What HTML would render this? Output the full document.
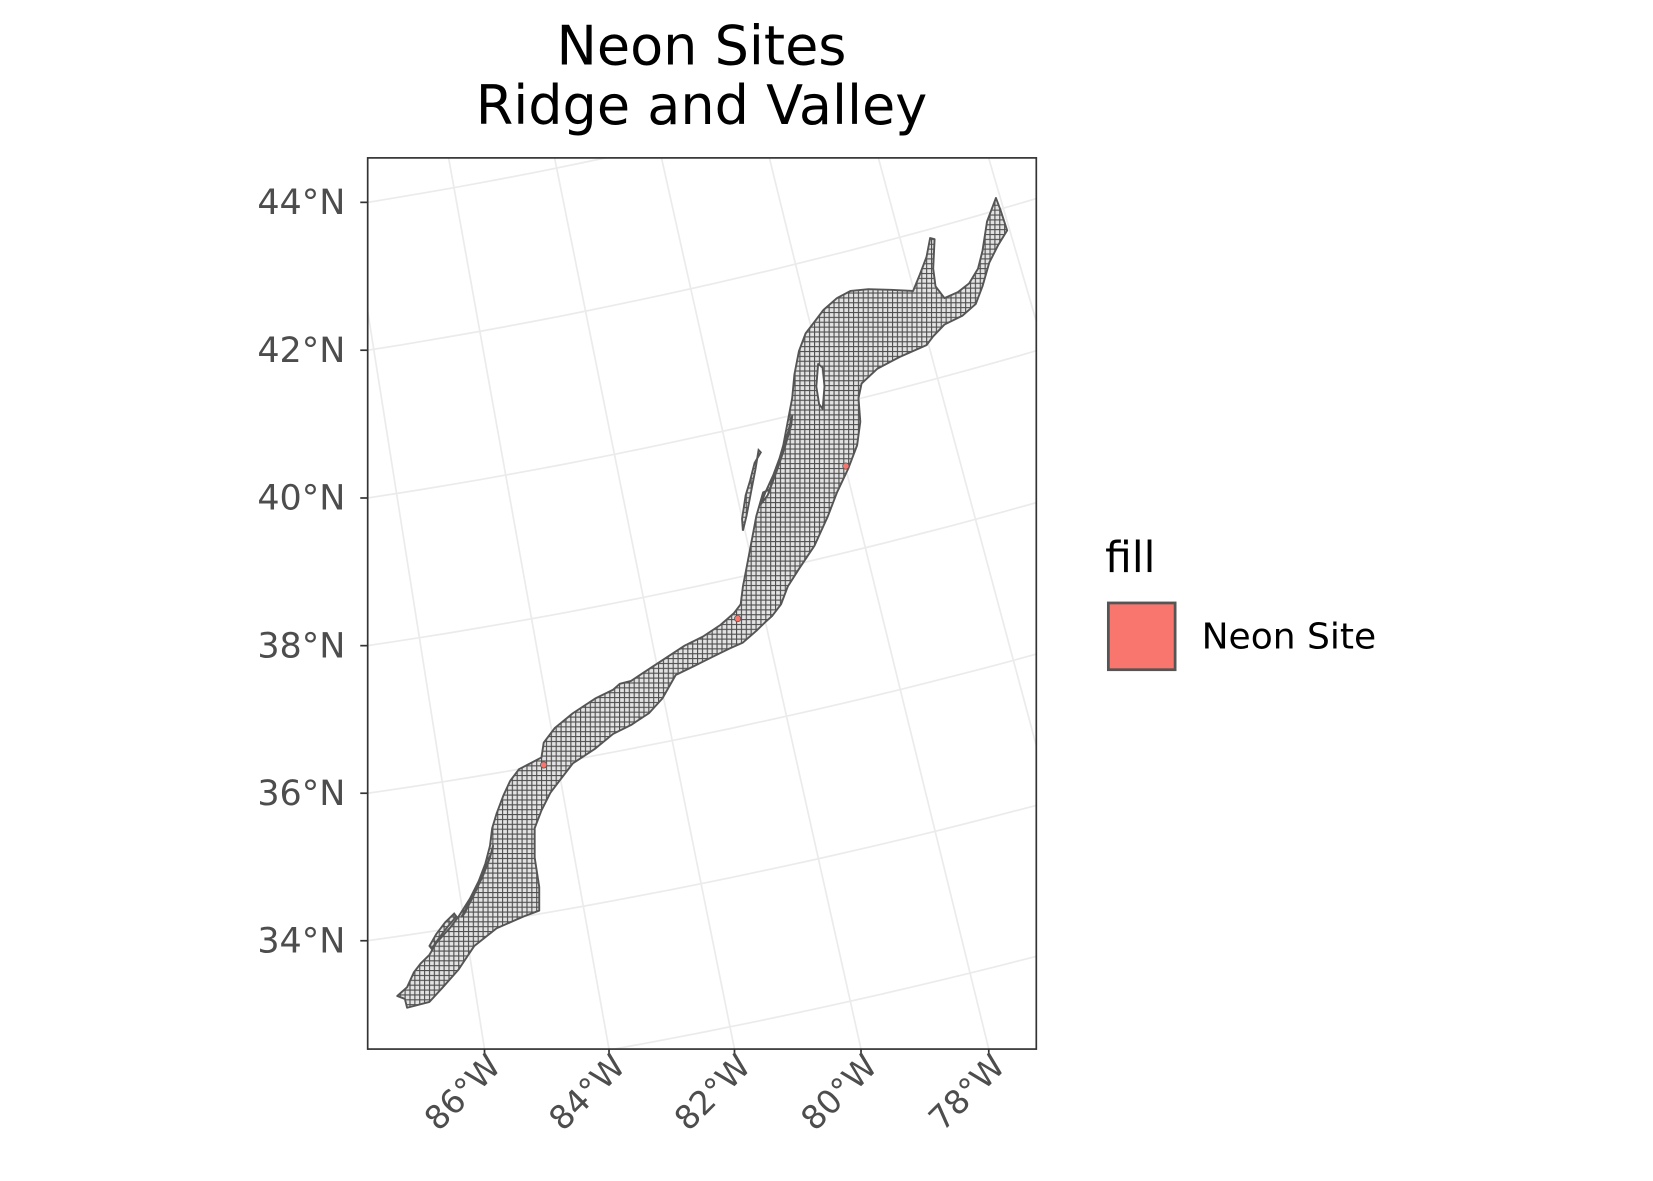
<!DOCTYPE html>
<html><head><meta charset="utf-8"><style>
html,body{margin:0;padding:0;background:#fff;overflow:hidden;width:1653px;height:1181px;}
svg{display:block;font-family:"DejaVu Sans","Liberation Sans",sans-serif;}
</style></head><body>
<svg id="chart" width="1653" height="1181" viewBox="0 0 1560 1114.5" preserveAspectRatio="none" xmlns="http://www.w3.org/2000/svg">
<defs>
<clipPath id="panelClip"><rect x="347" y="149" width="631" height="841"/></clipPath>
<pattern id="hatch" patternUnits="userSpaceOnUse" width="4.6" height="4.6">
<rect width="4.6" height="4.6" fill="#e2e2e2"/>
<path d="M0 0.5H4.6M0.5 0V4.6" stroke="#4e4e4e" stroke-width="1.1"/>
</pattern>
</defs>
<rect width="1560" height="1114.5" fill="#fff"/>
<text x="662" y="61" text-anchor="middle" font-size="51" fill="#000">Neon Sites</text>
<text x="662" y="117" text-anchor="middle" font-size="51" fill="#000">Ridge and Valley</text>
<rect x="347" y="149" width="631" height="841" fill="#fff"/>
<g id="grid" clip-path="url(#panelClip)"></g>
<g id="region" clip-path="url(#panelClip)"></g>
<g id="sites"></g>
<rect x="347" y="149" width="631" height="841" fill="none" stroke="#333" stroke-width="1.6"/>
<g id="axes"></g>
<text x="1043" y="540" font-size="40" fill="#000">fill</text>
<rect x="1046" y="569" width="63" height="63" fill="#F8766D" stroke="#555" stroke-width="2.6"/>
<text x="1134" y="612" font-size="34" fill="#000">Neon Site</text>
</svg>
<script>
// ---- data ----
const latTicks = [34, 36, 38, 40, 42, 44];
const latLabels = ["34°N","36°N","38°N","40°N","42°N","44°N"];
const lonTicks = [-86, -84, -82, -80, -78];
const lonLabels = ["86°W","84°W","82°W","80°W","78°W"];
const siteLon = [-84.24, -80.46, -77.99];
const siteLat = [36.0, 37.45, 39.15];
// region outline geometry (traced map units)
const outlineX = [78,100,115,130,150,165,195,215,240,260,275,285,290,300,315,330,350,375,400,405,430,470,520,560,575,600,640,680,720,760,800,830,845,850,860,870,880,895,910,925,940,950,960,965,975,990,1010,1030,1060,1090,1130,1180,1230,1245,1260,1268,1278,1275,1280,1300,1330,1355,1375,1385,1395,1415,1425,1440,1420,1400,1385,1370,1340,1300,1275,1260,1200,1150,1115,1108,1112,1105,1085,1060,1040,1010,975,950,935,915,900,880,850,820,780,740,700,670,640,600,560,520,470,440,420,400,385,385,395,395,360,300,250,215,180,150,100,95];
const outlineY = [1435,1420,1395,1380,1365,1345,1320,1300,1270,1240,1210,1180,1150,1125,1095,1070,1050,1040,1030,1005,980,955,930,915,905,900,880,860,840,825,805,785,770,740,700,660,620,580,575,540,500,460,420,380,340,310,290,270,250,238,235,236,238,210,180,148,150,200,230,250,240,225,200,170,120,80,100,135,160,190,230,260,280,295,315,330,350,370,395,420,460,500,540,580,620,670,710,740,770,790,800,815,835,845,860,875,890,930,955,975,990,1015,1040,1070,1090,1120,1150,1200,1250,1290,1300,1320,1350,1390,1420,1445,1455,1440];
const sliverX = [885,878,868,858,850,848,856,866,876,890];
const sliverY = [508,540,580,620,645,625,585,560,530,512];
const sliver2X = [150,165,185,205,210,190,170,155];
const sliver2Y = [1350,1330,1310,1295,1300,1318,1338,1355];
const holeX = [960,950,935,918,900,890,905,925,945,958];
const holeY = [450,480,515,550,580,600,585,545,500,465];
const hole2X = [1018,1028,1032,1028,1020,1014];
const hole2Y = [362,368,400,438,430,400];
const hole3X = [292,285,270,250,228,222,240,262,280,290];
const hole3Y = [1180,1200,1230,1262,1295,1300,1275,1240,1208,1188];

// ---- projection ----
const AX = -399.8, AY = -4424, R34 = 5364, PX_PER_LAT = 68.9, PHI84 = 0.1781, PHI_PER_LON = 0.01055;
function rOf(lat){ return R34 - (lat - 34) * PX_PER_LAT; }
function phiOf(lon){ return PHI84 + (lon + 84) * PHI_PER_LON; }
function proj(lon, lat){ const r = rOf(lat), p = phiOf(lon); return [AX + r*Math.sin(p), AY + r*Math.cos(p)]; }
function mapX(u){ return 347 + (u - 12) * 0.4226; }
function mapY(v){ return 149 + (v - 12) * 0.5558; }
const NS = "http://www.w3.org/2000/svg";
function el(tag, attrs, parent){ const e = document.createElementNS(NS, tag); for (const k in attrs) e.setAttribute(k, attrs[k]); parent.appendChild(e); return e; }

// ---- graticule ----
const grid = document.getElementById('grid');
for (let lon = -92; lon <= -72; lon += 2) {
  const a = proj(lon, 20), b = proj(lon, 50);
  const ln = el('line', {x1:a[0], y1:a[1], x2:b[0], y2:b[1], stroke:'#ebebeb', 'stroke-width':1.6}, grid);
  
  
}
for (let lat = 30; lat <= 48; lat += 2) {
  let d = '';
  for (let lon = -95; lon <= -68; lon += 0.5) { const p = proj(lon, lat); d += (d ? 'L' : 'M') + p[0].toFixed(1) + ' ' + p[1].toFixed(1); }
  const pl = el('path', {d:d, fill:'none', stroke:'#ebebeb', 'stroke-width':1.6}, grid);
  
  
}

// ---- region ----
const region = document.getElementById('region');
function polyPath(xs, ys){ let d=''; for (let i=0;i<xs.length;i++) d += (i? 'L':'M') + mapX(xs[i]).toFixed(1) + ' ' + mapY(ys[i]).toFixed(1); return d + 'Z'; }
const main = el('path', {d: polyPath(outlineX, outlineY) + polyPath(holeX, holeY) + polyPath(hole2X, hole2Y) + polyPath(hole3X, hole3Y), fill:'url(#hatch)', 'fill-rule':'evenodd', stroke:'#555', 'stroke-width':1.8, 'stroke-linejoin':'round'}, region);


const s1 = el('path', {d: polyPath(sliverX, sliverY), fill:'url(#hatch)', stroke:'#555', 'stroke-width':1.8}, region);


const s2 = el('path', {d: polyPath(sliver2X, sliver2Y), fill:'url(#hatch)', stroke:'#555', 'stroke-width':1.8}, region);



// ---- sites ----
const sites = document.getElementById('sites');
for (let i=0;i<siteLon.length;i++){
  const p = proj(siteLon[i], siteLat[i]);
  const c = el('circle', {cx:p[0], cy:p[1], r:3, fill:'#F8766D', stroke:'#555', 'stroke-width':0.7}, sites);
  
  
}

// ---- axes ----
const axes = document.getElementById('axes');
latTicks.forEach((lat, i) => {
  const r = rOf(lat), dx = 347 - AX;
  const y = AY + Math.sqrt(r*r - dx*dx);
  const t = el('line', {x1:340, y1:y, x2:347, y2:y, stroke:'#333', 'stroke-width':1.6}, axes);
  
  
  const tx = el('text', {x:326, y:y+11, 'text-anchor':'end', 'font-size':33, fill:'#4d4d4d'}, axes);
  tx.textContent = latLabels[i];
  
  
});
lonTicks.forEach((lon, i) => {
  const x = AX + (990 - AY) * Math.tan(phiOf(lon));
  const t = el('line', {x1:x, y1:990, x2:x, y2:997, stroke:'#333', 'stroke-width':1.6}, axes);
  
  
  const tx = el('text', {x:0, y:0, 'text-anchor':'end', 'font-size':31, fill:'#4d4d4d', transform:'translate(' + (x+17) + ',1008) rotate(-45)'}, axes);
  tx.textContent = lonLabels[i];
  
  
});
</script>
</body></html>
